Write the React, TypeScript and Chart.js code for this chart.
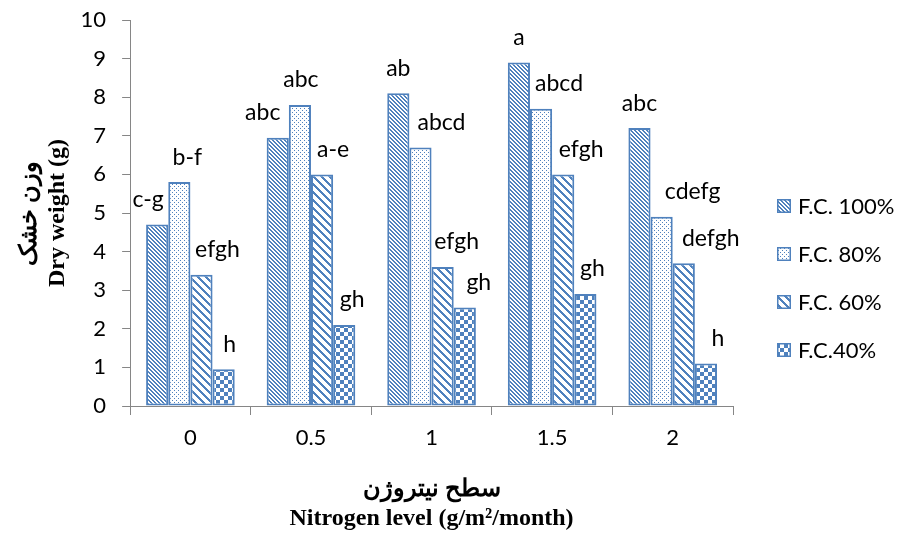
import React, { useEffect, useRef } from 'react';
import { Chart, registerables } from 'chart.js';

Chart.register(...registerables);

// ---- data ----
const categories = ['0', '0.5', '1', '1.5', '2'];
const seriesNames = ['F.C. 100%', 'F.C. 80%', 'F.C. 60%', 'F.C.40%'];
const fc100 = [4.7, 6.95, 8.1, 8.9, 7.2];
const fc80 = [5.8, 7.8, 6.7, 7.7, 4.9];
const fc60 = [3.4, 6.0, 3.6, 6.0, 3.7];
const fc40 = [0.95, 2.1, 2.55, 2.9, 1.1];
const letters100 = ['c-g', 'abc', 'ab', 'a', 'abc'];
const letters80 = ['b-f', 'abc', 'abcd', 'abcd', 'cdefg'];
const letters60 = ['efgh', 'a-e', 'efgh', 'efgh', 'defgh'];
const letters40 = ['h', 'gh', 'gh', 'gh', 'h'];
const yTitle = ['وزن خشک', 'Dry weight (g)'];
const xTitle = ['سطح نیتروژن', 'Nitrogen level (g/m²/month)'];

// ---- layout / style (not data) ----
const BLUE = '#4F81BD';
const AXIS = '#868686';
const labelShiftX = [
  [-9, -15, 0, 0, 0],
  [8, 1, 21, 18, 31],
  [16, 11, 14, 18, 27],
  [6, 8, 14, 7, 12],
];
const patternKinds = ['dense', 'dots', 'wide', 'checker'];
const TITLE_FONT = '"Liberation Serif", "Times New Roman", serif';

function tileTest(kind: string, x: number, y: number): boolean {
  if (kind === 'dense') return (((x - y) % 4) + 4) % 4 < 2;
  if (kind === 'dots') return (y % 4 === 0 && x % 4 === 0) || (y % 4 === 2 && x % 4 === 2);
  if (kind === 'wide') return (((x - y) % 8) + 8) % 8 < 3;
  return (((x >> 2) + (y >> 2)) % 2) === 0;
}

function makePattern(ctx: CanvasRenderingContext2D, kind: string): CanvasPattern | string {
  const c = document.createElement('canvas');
  c.width = 8;
  c.height = 8;
  const g = c.getContext('2d');
  if (!g) return BLUE;
  g.fillStyle = '#ffffff';
  g.fillRect(0, 0, 8, 8);
  g.fillStyle = BLUE;
  for (let y = 0; y < 8; y++) {
    for (let x = 0; x < 8; x++) {
      if (tileTest(kind, x, y)) g.fillRect(x, y, 1, 1);
    }
  }
  return ctx.createPattern(c, 'repeat') || BLUE;
}

export default function App() {
  const canvasRef = useRef<HTMLCanvasElement | null>(null);

  useEffect(() => {
    const canvas = canvasRef.current;
    if (!canvas) return;
    const ctx = canvas.getContext('2d');
    if (!ctx) return;
    const patterns = patternKinds.map((k) => makePattern(ctx, k));
    const seriesValues = [fc100, fc80, fc60, fc40];
    const letterSets = [letters100, letters80, letters60, letters40];

    const lettersPlugin = {
      id: 'letters',
      afterDatasetsDraw(chart: any) {
        const c = chart.ctx;
        c.save();
        c.font = '23px Lato';
        c.fillStyle = '#000';
        c.textAlign = 'center';
        c.textBaseline = 'middle';
        chart.data.datasets.forEach((_: any, di: number) => {
          const meta = chart.getDatasetMeta(di);
          meta.data.forEach((bar: any, i: number) => {
            c.fillText(letterSets[di][i], bar.x + labelShiftX[di][i], bar.y - 25);
          });
        });
        c.restore();
      },
    };

    const legendPlugin = {
      id: 'sideLegend',
      afterDraw(chart: any) {
        const c = chart.ctx;
        const area = chart.chartArea;
        c.save();
        c.font = '22px Lato';
        c.textAlign = 'left';
        c.textBaseline = 'middle';
        chart.data.datasets.forEach((ds: any, i: number) => {
          const cy = area.top + 186 + i * 48;
          const bx = area.right + 44;
          c.fillStyle = ds.backgroundColor;
          c.fillRect(bx, cy - 7, 14, 14);
          c.strokeStyle = BLUE;
          c.lineWidth = 1.5;
          c.strokeRect(bx + 0.75, cy - 6.25, 12.5, 12.5);
          c.fillStyle = '#000';
          c.fillText(ds.label, bx + 21, cy + 1);
        });
        c.restore();
      },
    };

    const chart = new Chart(ctx, {
      type: 'bar',
      data: {
        labels: categories,
        datasets: seriesValues.map((vals, i) => ({
          label: seriesNames[i],
          data: vals,
          backgroundColor: patterns[i] as any,
          borderColor: BLUE,
          borderWidth: 2,
          borderSkipped: false,
          categoryPercentage: 0.735,
          barPercentage: 1,
        })),
      },
      options: {
        animation: false,
        responsive: true,
        maintainAspectRatio: false,
        layout: { padding: { left: 5, right: 172, top: 20, bottom: 0 } },
        plugins: {
          legend: { display: false },
          tooltip: { enabled: false },
        },
        scales: {
          x: {
            grid: {
              offset: true,
              drawOnChartArea: false,
              drawTicks: true,
              tickLength: 9,
              color: AXIS,
            },
            border: { display: true, color: AXIS, width: 1 },
            ticks: {
              font: { family: 'Lato', size: 22 },
              color: '#000',
              padding: 10,
            },
            title: {
              display: true,
              text: xTitle,
              font: { family: TITLE_FONT, size: 24, weight: 'bold', lineHeight: 1.2 },
              color: '#000',
              padding: { top: 14, bottom: 0 },
            },
          },
          y: {
            min: 0,
            max: 10,
            afterFit(scale: any) {
              scale.paddingTop = 0;
            },
            grid: {
              drawOnChartArea: false,
              drawTicks: true,
              tickLength: 8,
              color: AXIS,
            },
            border: { display: true, color: AXIS, width: 1 },
            ticks: {
              stepSize: 1,
              font: { family: 'Lato', size: 22 },
              color: '#000',
              padding: 16,
            },
            title: {
              display: true,
              text: yTitle,
              font: { family: TITLE_FONT, size: 24, weight: 'bold', lineHeight: 1.2 },
              color: '#000',
              padding: { top: 10, bottom: -8 },
            },
          },
        },
      },
      plugins: [lettersPlugin, legendPlugin],
    });

    return () => chart.destroy();
  }, []);

  return (
    <div style={{ position: 'fixed', left: 0, top: 0, width: 905, height: 533, background: '#fff' }}>
      <canvas ref={canvasRef} />
    </div>
  );
}
